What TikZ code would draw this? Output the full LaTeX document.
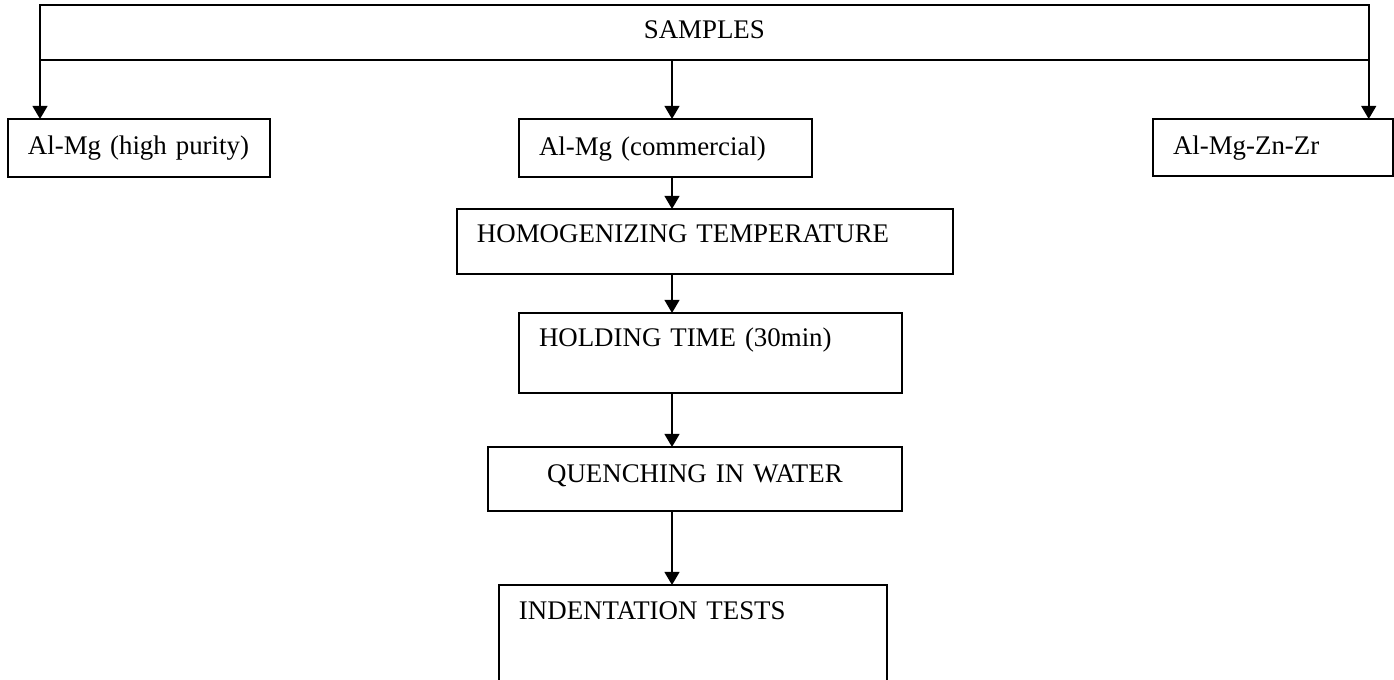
\documentclass[tikz,border=0pt]{standalone}
\usepackage{fontspec}
\setmainfont{Liberation Serif}
\usetikzlibrary{arrows.meta}

\begin{document}
\begin{tikzpicture} [x=0.02cm, y=-0.02cm,
  stepbox/.style={draw, line width=0.9pt, anchor=north west, outer sep=0pt,
    inner xsep=0.4cm, inner ysep=0pt, align=left,
    font=\fontsize{15.3}{18}\selectfont},
  arr/.style={line width=1.1pt, -{Triangle[width=8.5pt,length=7.5pt]}}]

\useasboundingbox (0,0) rectangle (1394,680);
\clip (0,0) rectangle (1394,680);

\node[stepbox, align=center, text width=25.78cm, text height=0.68cm, text depth=0.42cm] (samples) at (40,5) {SAMPLES};

\node[stepbox, text width=4.44cm, text height=0.72cm, text depth=0.44cm] (pure) at (8,119) {Al-Mg (high purity)};
\node[stepbox, text width=5.06cm, text height=0.74cm, text depth=0.42cm] (comm) at (519,119) {Al-Mg (commercial)};
\node[stepbox, text width=4.00cm, text height=0.72cm, text depth=0.42cm] (alloy) at (1153,119) {Al-Mg-Zn-Zr};

\node[stepbox, text width=9.12cm, text height=0.68cm, text depth=0.62cm] (homog) at (457,209) {HOMOGENIZING TEMPERATURE};
\node[stepbox, text width=6.86cm, text height=0.68cm, text depth=0.92cm] (hold) at (519,313) {HOLDING TIME (30min)};
\node[stepbox, align=center, text width=7.48cm, text height=0.70cm, text depth=0.58cm] (quench) at (488,447) {QUENCHING IN WATER};
\node[stepbox, text width=6.96cm, text height=0.68cm, text depth=1.52cm] (indent) at (499,585) {INDENTATION TESTS};

\coordinate (axis) at (672,0);

% branches from the samples box
\draw[arr] (samples.south west) -- (samples.south west |- pure.north);
\draw[arr] (samples.south -| axis) -- (comm.north -| axis);
\draw[arr] (samples.south east) -- (samples.south east |- alloy.north);

% treatment chain
\draw[arr] (comm.south -| axis) -- (homog.north -| axis);
\draw[arr] (homog.south -| axis) -- (hold.north -| axis);
\draw[arr] (hold.south -| axis) -- (quench.north -| axis);
\draw[arr] (quench.south -| axis) -- (indent.north -| axis);

\end{tikzpicture}
\end{document}
